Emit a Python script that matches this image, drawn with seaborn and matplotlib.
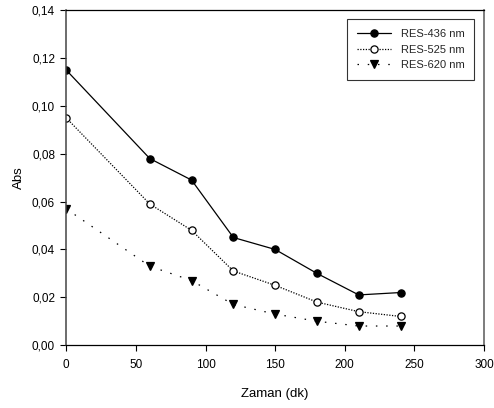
import matplotlib
matplotlib.use("Agg")
import matplotlib.pyplot as plt
from matplotlib.ticker import FuncFormatter, MultipleLocator
import seaborn as sns
import pandas as pd

time_min = [0, 60, 90, 120, 150, 180, 210, 240]
res_436 = [0.115, 0.078, 0.069, 0.045, 0.040, 0.030, 0.021, 0.022]
res_525 = [0.095, 0.059, 0.048, 0.031, 0.025, 0.018, 0.014, 0.012]
res_620 = [0.057, 0.033, 0.027, 0.017, 0.013, 0.010, 0.008, 0.008]
series_names = ["RES-436 nm", "RES-525 nm", "RES-620 nm"]

sns.set_theme(style="ticks")
plt.rcParams["font.family"] = ["Liberation Sans", "DejaVu Sans"]

fig = plt.figure(figsize=(4.94, 4.08), dpi=100)
ax = fig.add_axes([0.134, 0.154, 0.846, 0.821])

styles = [
    dict(marker="o", markerfacecolor="black", linestyle="-"),
    dict(marker="o", markerfacecolor="white", linestyle=(0, (1, 1.2))),
    dict(marker="v", markerfacecolor="black", linestyle=(0, (1.2, 7))),
]
for name, vals, st in zip(series_names, [res_436, res_525, res_620], styles):
    df = pd.DataFrame({"t": time_min, "abs": vals})
    sns.lineplot(data=df, x="t", y="abs", ax=ax, color="black", linewidth=0.9,
                 marker=st["marker"], markersize=5.2, markerfacecolor=st["markerfacecolor"],
                 markeredgecolor="black", markeredgewidth=0.9,
                 linestyle=st["linestyle"], label=name)

ax.set_xlim(0, 300)
ax.set_ylim(0, 0.14)
ax.xaxis.set_major_locator(MultipleLocator(50))
ax.yaxis.set_major_locator(MultipleLocator(0.02))
ax.yaxis.set_major_formatter(FuncFormatter(lambda v, p: f"{v:.2f}".replace(".", ",")))
ax.tick_params(axis="both", labelsize=8.5, direction="out", length=4, width=0.8,
               color="black", labelcolor="black")
ax.tick_params(axis="x", pad=6)
ax.tick_params(axis="y", pad=4)
for s in ax.spines.values():
    s.set_linewidth(0.9)
    s.set_color("black")
ax.spines["right"].set_color("#666666")
ax.spines["right"].set_linewidth(1.2)
ax.spines["left"].set_color("#444444")
ax.spines["left"].set_linewidth(1.1)

ax.set_xlabel("Zaman (dk)", fontsize=9.5, color="black", labelpad=12)
ax.set_ylabel("Abs", fontsize=9.5, color="black", labelpad=5)

leg = ax.legend(loc="upper right", fontsize=8, frameon=True, fancybox=False,
                edgecolor="black", borderpad=0.9, handlelength=3.0,
                bbox_to_anchor=(0.99, 0.99), labelspacing=0.5, handletextpad=0.9)
leg.get_frame().set_linewidth(0.8)

fig.savefig("out.png", dpi=100)
